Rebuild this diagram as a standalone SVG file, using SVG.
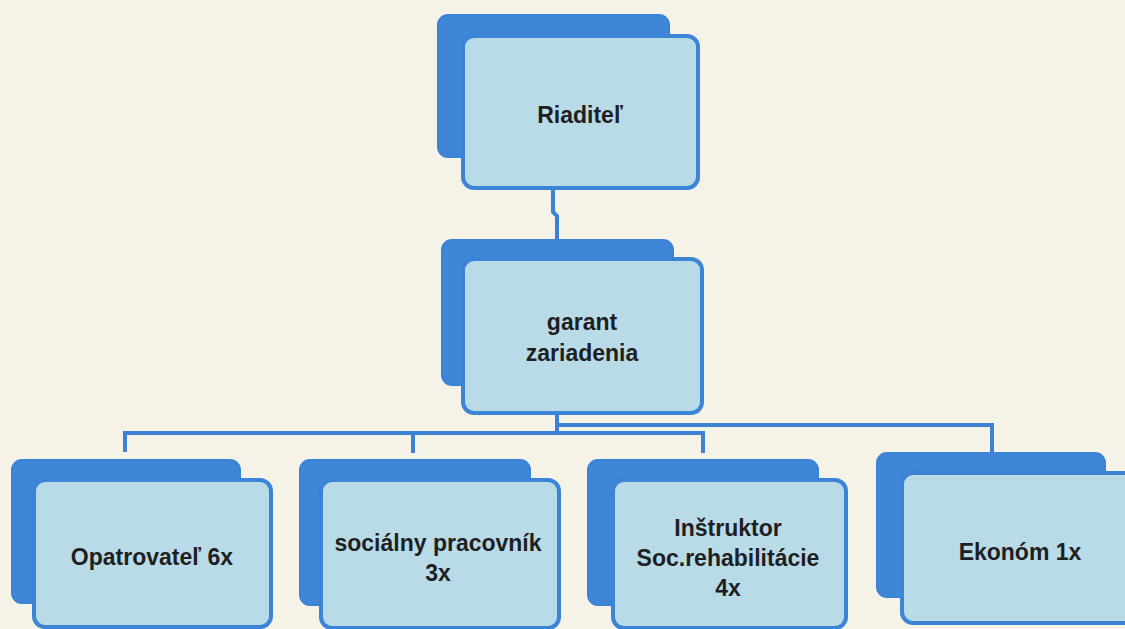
<svg xmlns="http://www.w3.org/2000/svg" width="1125" height="629" viewBox="0 0 1125 629">
<defs>
<style>
.back{fill:#3f86d8;stroke:#3a82d4;stroke-width:2}
.front{fill:#b9dbe8;stroke:#3b84d6;stroke-width:4}
.conn{fill:none;stroke:#3b82d4;stroke-width:4}
.lbl{font-family:"Liberation Sans",Arial,sans-serif;font-weight:bold;font-size:23px;fill:#1e1f22;text-anchor:middle}
</style>
</defs>
<rect width="1125" height="629" fill="#f5f2e8"/>
<g id="connectors">
<path class="conn" d="M553 188 V212 L557 216 V240"/>
<path class="conn" d="M557 413 V433"/>
<path class="conn" d="M125 452 V433 H703 V453"/>
<path class="conn" d="M413 433 V453"/>
<path class="conn" d="M557 425 H992 V453"/>
</g>
<g id="riaditel">
<rect class="back" x="438" y="15" width="231" height="142" rx="10"/>
<rect class="front" x="463" y="36" width="235" height="152" rx="11"/>
<text class="lbl" x="580" y="123">Riaditeľ</text>
</g>
<g id="garant">
<rect class="back" x="442" y="240" width="231" height="145" rx="10"/>
<rect class="front" x="463" y="259" width="239" height="154" rx="11"/>
<text class="lbl" x="582" y="330">garant</text>
<text class="lbl" x="582" y="361">zariadenia</text>
</g>
<g id="opatrovatel">
<rect class="back" x="12" y="460" width="228" height="143" rx="10"/>
<rect class="front" x="34" y="480" width="237" height="147" rx="11"/>
<text class="lbl" x="152" y="565">Opatrovateľ 6x</text>
</g>
<g id="socialny">
<rect class="back" x="300" y="460" width="230" height="145" rx="10"/>
<rect class="front" x="321" y="480" width="238" height="148" rx="11"/>
<text class="lbl" x="438" y="551">sociálny pracovník</text>
<text class="lbl" x="438" y="581">3x</text>
</g>
<g id="instruktor">
<rect class="back" x="588" y="460" width="230" height="145" rx="10"/>
<rect class="front" x="613" y="480" width="233" height="148" rx="11"/>
<text class="lbl" x="728" y="536">Inštruktor</text>
<text class="lbl" x="728" y="566">Soc.rehabilitácie</text>
<text class="lbl" x="728" y="596">4x</text>
</g>
<g id="ekonom">
<rect class="back" x="877" y="453" width="228" height="144" rx="10"/>
<rect class="front" x="902" y="473" width="236" height="150" rx="11"/>
<text class="lbl" x="1020" y="560">Ekonóm 1x</text>
</g>
</svg>
